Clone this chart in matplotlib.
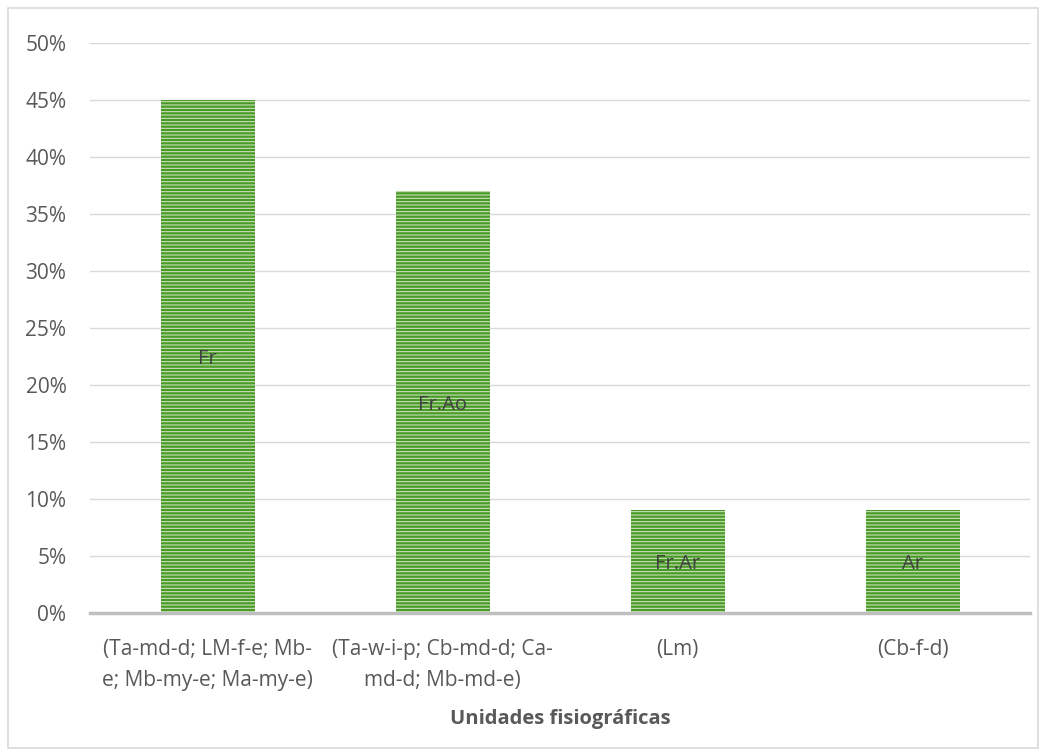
import matplotlib.pyplot as plt
from matplotlib.patches import Rectangle
from matplotlib.ticker import PercentFormatter

plt.rcParams['font.family'] = ['Open Sans', 'DejaVu Sans']
plt.rcParams['hatch.linewidth'] = 0.75

unidades = ['(Ta-md-d; LM-f-e; Mb-\ne; Mb-my-e; Ma-my-e)',
            '(Ta-w-i-p; Cb-md-d; Ca-\nmd-d; Mb-md-e)',
            '(Lm)',
            '(Cb-f-d)']
porcentaje = [45, 37, 9, 9]
etiquetas = ['Fr', 'Fr.Ao', 'Fr.Ar', 'Ar']

fig = plt.figure(figsize=(10.46, 7.53), dpi=100)
ax = fig.add_axes([90 / 1046, 1 - 613 / 753, 940 / 1046, 570 / 753])

# marco gris alrededor del grafico
fig.patches.append(Rectangle((8 / 1046, 5 / 753), 1030 / 1046, 740 / 753,
                             transform=fig.transFigure, fill=False,
                             edgecolor='#d9d9d9', linewidth=1.2))

x = range(len(unidades))
bars = ax.bar(x, porcentaje, width=0.4, color='#4a9a2a', edgecolor='#cfe8bf',
              hatch='-----', linewidth=0, zorder=2)

for xi, v, t in zip(x, porcentaje, etiquetas):
    ax.text(xi, v / 2, t, ha='center', va='center_baseline', fontsize=14.5,
            color='#404040', zorder=3)

ax.set_ylim(0, 50)
ax.set_xlim(-0.5, 3.5)
ax.set_yticks(range(0, 51, 5))
ax.yaxis.set_major_formatter(PercentFormatter(decimals=0))
ax.set_xticks(list(x))
ax.set_xticklabels(unidades, fontsize=15, color='#595959', linespacing=1.6)
ax.tick_params(axis='y', labelsize=15, labelcolor='#595959', length=0, pad=17)
ax.tick_params(axis='x', length=0, pad=19)
ax.grid(axis='y', color='#d9d9d9', linewidth=1, zorder=0)
ax.set_axisbelow(True)
for s in ['top', 'right', 'left']:
    ax.spines[s].set_visible(False)
ax.spines['bottom'].set_color('#bfbfbf')
ax.spines['bottom'].set_linewidth(2.5)

ax.set_xlabel('Unidades fisiográficas', fontsize=14.5, fontweight='bold',
              color='#595959', labelpad=13)

fig.savefig('out.png', dpi=100)
